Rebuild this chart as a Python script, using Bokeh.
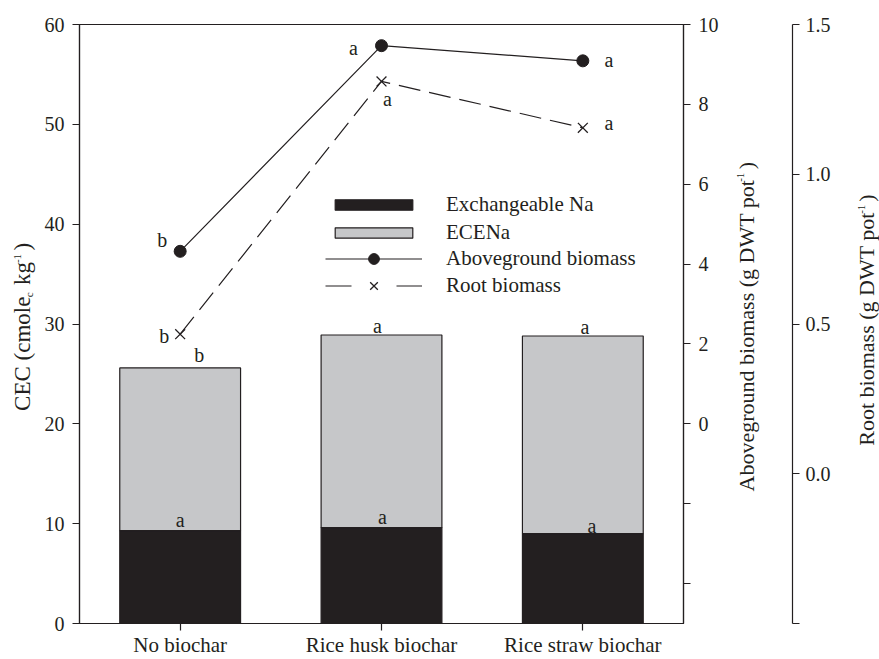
import math
from bokeh.plotting import figure
from bokeh.models import (FactorRange, Range1d, LinearAxis, FixedTicker, Label,
                          Legend, LegendItem, ColumnDataSource, NumeralTickFormatter)
from bokeh.embed import file_html
from bokeh.resources import INLINE
from bokeh.core.properties import value

# ---------------- data ----------------
categories = ["No biochar", "Rice husk biochar", "Rice straw biochar"]
exch_na = [9.3, 9.6, 9.0]
ecena = [16.3, 19.3, 19.8]
exch_letters = ["a", "a", "a"]
total_letters = ["b", "a", "a"]
aboveground = [4.32, 9.47, 9.09]
aboveground_letters = ["b", "a", "a"]
root = [0.466, 1.31, 1.155]
root_letters = ["b", "a", "a"]

cec_ticks = [0, 10, 20, 30, 40, 50, 60]
above_ticks = [-4, -2, 0, 2, 4, 6, 8, 10]
root_ticks = [-0.5, 0.0, 0.5, 1.0, 1.5]

# ---------------- style ----------------
DARK = "#231f20"
GREY = "#c6c7c9"
FONT = "Liberation Serif"
L, R, T, B = 79, 196, 24, 32
W, H = 879, 659
FW, FH = W - L - R, H - T - B

# letter offsets (screen px: x right, y down) relative to anchor points
exch_off = [(0, -11), (1, -11), (9, -8)]
total_off = [(19, -13), (-4, -9), (2, -9)]
above_off = [(-18, -11), (-28, 2), (26, -1)]
root_off = [(-16, 2), (6, 18), (26, -5)]

totals = [a + b for a, b in zip(exch_na, ecena)]
src = ColumnDataSource(dict(cat=categories, exch=exch_na, total=totals,
                            above=aboveground, root=root))

p = figure(x_range=FactorRange(*categories), y_range=Range1d(0, 60),
           width=W, height=H, output_backend="svg", toolbar_location=None,
           min_border_left=L, min_border_right=R, min_border_top=T, min_border_bottom=B)
p.extra_y_ranges = {"above": Range1d(-5, 10), "root": Range1d(-0.5, 1.5)}
p.grid.visible = False
p.outline_line_color = DARK
p.outline_line_width = 1.2
p.background_fill_color = "white"
p.border_fill_color = "white"

r_exch = p.vbar(x="cat", bottom=0, top="exch", width=0.6, source=src,
                fill_color=DARK, line_color=DARK, line_width=1.2)
r_ecena = p.vbar(x="cat", bottom="exch", top="total", width=0.6, source=src,
                 fill_color=GREY, line_color=DARK, line_width=1.2)

r_al = p.line(x="cat", y="above", source=src, y_range_name="above",
              line_color=DARK, line_width=1.2)
r_ac = p.scatter(x="cat", y="above", source=src, y_range_name="above",
                 marker="circle", size=12, fill_color=DARK, line_color=DARK)
r_rl = p.line(x="cat", y="root", source=src, y_range_name="root",
              line_color=DARK, line_width=1.2, line_dash="22 9")
r_rx = p.scatter(x="cat", y="root", source=src, y_range_name="root",
                 marker="x", size=14, line_color=DARK, line_width=1.3)

# legend-only proxies for the dashed entry (kept below the visible range)
proxy = ColumnDataSource(dict(x=[categories[0]], y=[-100]))
d_line = p.line(x="x", y="y", source=proxy, line_color=DARK, line_width=1.2,
                line_dash="26 45")
d_x = p.scatter(x="x", y="y", source=proxy, marker="x", size=14,
                line_color=DARK, line_width=1.3)


def letters(ys, texts, offs, yrn="default"):
    s = ColumnDataSource(dict(x=categories, y=ys, t=texts,
                              xo=[o[0] for o in offs], yo=[o[1] for o in offs]))
    p.text(x="x", y="y", text="t", x_offset="xo", y_offset="yo", source=s,
           y_range_name=yrn, text_align="center", text_baseline="alphabetic",
           text_font=value(FONT), text_font_size="20px", text_color=DARK)


letters(exch_na, exch_letters, exch_off)
letters(totals, total_letters, total_off)
letters(aboveground, aboveground_letters, above_off, "above")
letters(root, root_letters, root_off, "root")


def style_axis(ax, standoff=8):
    ax.axis_line_color = DARK
    ax.axis_line_width = 1.2
    ax.major_tick_line_color = DARK
    ax.major_tick_line_width = 1.2
    ax.major_tick_out = 7
    ax.major_tick_in = 0
    ax.minor_tick_out = 0
    ax.minor_tick_in = 0
    ax.major_label_text_font = FONT
    ax.major_label_text_font_size = "20px"
    ax.major_label_text_color = DARK
    ax.major_label_standoff = standoff


xa = p.xaxis[0]
style_axis(xa, 2)
xa.major_label_text_font_size = "21px"

ya = p.yaxis[0]
style_axis(ya, 8)
ya.ticker = FixedTicker(ticks=cec_ticks)

# rotated axis titles (labels live in side panels so they are not clipped)
WID = {' ': .25, '\u00a0': .25, '(': .333, ')': .333, '-': .333, '1': .5,
       'A': .722, 'C': .667, 'D': .722, 'E': .611, 'R': .667, 'T': .611,
       'W': .944, 'a': .444, 'b': .5, 'c': .444, 'd': .5, 'e': .444, 'g': .5,
       'i': .278, 'k': .5, 'l': .278, 'm': .778, 'n': .5, 'o': .5, 'p': .5,
       'r': .333, 's': .389, 't': .278, 'u': .5, 'v': .5}
TSL, TSR, SS = 23, 22, 11
NB = "\u00a0\u00a0"


def tw(txt, size):
    return sum(WID.get(ch, .5) for ch in txt) * size


def px_to_x(sx):
    return (sx - L) / FW * 3.0


def px_to_y(sy):
    return (T + FH - sy) / FH * 60.0


def rlabel(txt, size, base_x, sy):
    # base_x is the wanted baseline position; renderer sits the text ~0.33em lower
    sx = base_x - 0.33 * size
    return Label(x=px_to_x(sx), y=px_to_y(sy), text=txt, angle=math.pi / 2,
                 text_align="left", text_baseline="alphabetic", text_font=FONT,
                 text_font_size=f"{size}px", text_color=DARK)


# left title: CEC (cmole_c kg^-1)
lx, ly = 29.5, 413
cec_main = rlabel("CEC (cmole" + NB + "kg" + NB + ")", TSL, lx, ly)
y_c = ly - tw("CEC (cmole", TSL)
cec_sub = rlabel("c", SS, lx + 3, y_c)
y_s = y_c - tw(NB + "kg", TSL)
cec_sup = rlabel("-1", SS, lx - 9, y_s)

# aboveground title
axx, axy = 753, 494
ab_main = rlabel("Aboveground biomass (g DWT pot" + NB + ")", TSR, axx, axy)
ab_sup = rlabel("-1", SS, axx - 9, axy - tw("Aboveground biomass (g DWT pot", TSR))

# root title
rx, ry = 873.5, 448
rt_main = rlabel("Root biomass (g DWT pot" + NB + ")", TSR, rx, ry)
rt_sup = rlabel("-1", SS, rx - 9, ry - tw("Root biomass (g DWT pot", TSR))

p.add_layout(cec_main, "left")
p.add_layout(cec_sub, "left")

ax1 = LinearAxis(y_range_name="above", ticker=FixedTicker(ticks=above_ticks),
                 major_label_overrides={-4: "", -2: ""})
style_axis(ax1, 8)
p.add_layout(ax1, "right")
for lab in (ab_main, rt_main, ab_sup, rt_sup, cec_sup):
    p.add_layout(lab, "right")

ax2 = LinearAxis(y_range_name="root", ticker=FixedTicker(ticks=root_ticks),
                 formatter=NumeralTickFormatter(format="0.0"),
                 major_label_overrides={-0.5: ""})
style_axis(ax2, 6)
p.add_layout(ax2, "right")

common = dict(glyph_width=97, label_standoff=24, padding=0, margin=0,
              border_line_color=None, background_fill_alpha=0,
              label_text_font=FONT, label_text_font_size="21px",
              label_text_color=DARK)
legend1 = Legend(items=[LegendItem(label="Exchangeable Na", renderers=[r_exch]),
                        LegendItem(label="ECENa", renderers=[r_ecena])],
                 location=(246, 378), glyph_height=13, spacing=3, **common)
legend2 = Legend(items=[LegendItem(label="Aboveground biomass", renderers=[r_al, r_ac]),
                        LegendItem(label="Root biomass", renderers=[d_line, d_x])],
                 location=(246, 324), glyph_height=27, spacing=0, **common)
p.add_layout(legend1)
p.add_layout(legend2)

open("out.html", "w").write(file_html(p, INLINE))
